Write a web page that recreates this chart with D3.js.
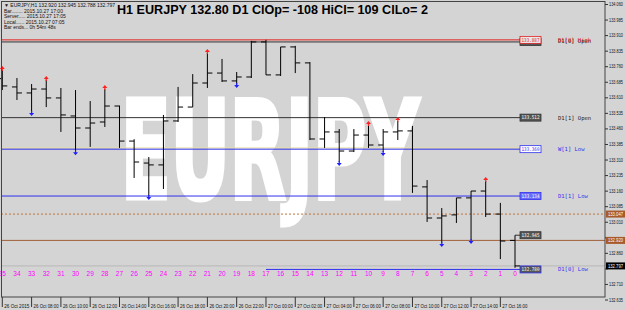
<!DOCTYPE html>
<html>
<head>
<script src="https://d3js.org/d3.v7.min.js"></script>
<style>
  body { margin: 0; background: #d4d4d4; }
  svg { display: block; font-family: "Liberation Sans", Arial, sans-serif; }
</style>
</head>
<body>
<svg id="chart" width="625" height="310"></svg>
<script>
// bar shift (35 = oldest on screen, 0 = current H1 bar)
let shifts = [35, 34, 33, 32, 31, 30, 29, 28, 27, 26, 25, 24, 23, 22, 21, 20, 19, 18,
              17, 16, 15, 14, 13, 12, 11, 10, 9, 8, 7, 6, 5, 4, 3, 2, 1, 0]
let opens  = [133.700, 133.660, 133.631, 133.650, 133.607, 133.520, 133.462, 133.491, 133.568,
              133.399, 133.293, 133.284, 133.496, 133.563, 133.679, 133.727, 133.689, 133.708,
              133.877, 133.718, 133.853, 133.776, 133.409, 133.443, 133.351, 133.428, 133.380,
              133.443, 133.448, 133.178, 133.028, 133.043, 133.125, 133.158, 133.047, 132.920]
let highs  = [133.742, 133.703, 133.674, 133.694, 133.655, 133.645, 133.592, 133.650, 133.570,
              133.408, 133.322, 133.525, 133.660, 133.722, 133.824, 133.795, 133.732, 133.882,
              133.887, 133.853, 133.858, 133.780, 133.515, 133.457, 133.457, 133.477, 133.457,
              133.496, 133.472, 133.211, 133.076, 133.125, 133.158, 133.207, 133.101, 132.945]
let lows   = [133.645, 133.597, 133.539, 133.563, 133.443, 133.350, 133.371, 133.467, 133.366,
              133.221, 133.134, 133.168, 133.491, 133.563, 133.655, 133.684, 133.674, 133.703,
              133.718, 133.713, 133.727, 133.404, 133.366, 133.298, 133.346, 133.366, 133.346,
              133.404, 133.149, 133.009, 132.908, 133.004, 132.922, 133.033, 132.830, 132.788]
let closes = [133.665, 133.631, 133.650, 133.607, 133.525, 133.462, 133.486, 133.568, 133.399,
              133.298, 133.284, 133.496, 133.563, 133.679, 133.727, 133.689, 133.708, 133.877,
              133.718, 133.853, 133.776, 133.409, 133.443, 133.351, 133.428, 133.380, 133.443,
              133.448, 133.182, 133.028, 133.038, 133.125, 133.158, 133.047, 132.917, 132.797]
// fractal arrows
let upFractals = [35, 32, 28, 21, 10, 8, 2]
let downFractals = [33, 30, 25, 19, 12, 9, 5, 3]

let timeTickBars = [35, 33, 31, 29, 27, 25, 23, 21, 19, 17, 15, 13, 11, 9, 7, 5, 3, 1]
let timeLabels = ["26 Oct 2015", "26 Oct 08:00", "26 Oct 10:00", "26 Oct 12:00", "26 Oct 14:00",
                  "26 Oct 16:00", "26 Oct 18:00", "26 Oct 20:00", "26 Oct 22:00", "27 Oct 00:00",
                  "27 Oct 02:00", "27 Oct 04:00", "27 Oct 06:00", "27 Oct 08:00", "27 Oct 10:00",
                  "27 Oct 12:00", "27 Oct 14:00", "27 Oct 16:00"]
let priceTicks = [134.060, 133.985, 133.910, 133.835, 133.760, 133.685, 133.610, 133.535, 133.460,
                  133.385, 133.310, 133.235, 133.160, 133.085, 133.010, 132.935, 132.860, 132.785,
                  132.710, 132.635]

// level lines drawn by the indicator
let levelValues = [133.887, 133.877, 133.512, 133.360, 133.134, 132.945, 132.780]
let levelNames  = ["D1[0] High", "D1[0] Open", "D1[1] Open", "W[1] Low", "D1[1] Low", "", "D1[0] Low"]
let levelFrom   = [35, 35, 35, 35, 35, 0, 17]
let levelColors = ["#e02020", "#333333", "#333333", "#3030f0", "#3030f0", "#333333", "#3030f0"]

let bidPrice = 132.797
let brownLevels = [133.047, 132.920]

let infoLines = ["\u25BC EURJPY,H1  132.920 132.945 132.788 132.797",
                 "Bar........ 2015.10.27 17:00",
                 "Server..... 2015.10.27 17:05",
                 "Local...... 2015.10.27 07:05",
                 "Bar ends... 0h 54m 48s"]
let title = "H1 EURJPY 132.80 D1 ClOp= -108 HiCl= 109 ClLo= 2"

let svg = d3.select("#chart")
let x = d3.scaleLinear().domain([35, 0]).range([2.3, 515])
let y = d3.scaleLinear().domain([132.635, 134.060]).range([299.5, 4])
let fmt = d3.format(".3f")

svg.append("rect").attr("width", 625).attr("height", 310).attr("fill", "#d4d4d4")

// watermark, squeezed horizontally to the condensed look
let wm = svg.append("text").attr("x", 0).attr("y", 0).text("EURJPY")
  .attr("font-family", "DejaVu Sans Condensed, DejaVu Sans, sans-serif")
  .attr("font-weight", "bold").attr("font-size", 136).attr("fill", "#ffffff")
  .attr("stroke", "#ffffff").attr("stroke-width", 5).attr("stroke-linejoin", "miter")
let wmWidth = wm.node().getComputedTextLength()
wm.attr("transform", `translate(121,198) scale(${298 / wmWidth},1)`)

let plot = svg.append("g")

// extra faint line above weekly low
plot.append("line").attr("x1", 1).attr("x2", 520).attr("y1", y(133.366)).attr("y2", y(133.366))
  .attr("stroke", "#e8e2a0").attr("stroke-width", 1)

// brown levels
plot.append("line").attr("x1", 1).attr("x2", 605).attr("y1", y(brownLevels[0])).attr("y2", y(brownLevels[0]))
  .attr("stroke", "#c0703a").attr("stroke-dasharray", "2,2")
plot.append("line").attr("x1", 1).attr("x2", 605).attr("y1", y(brownLevels[1])).attr("y2", y(brownLevels[1]))
  .attr("stroke", "#a0603a")
// bid line
plot.append("line").attr("x1", 1).attr("x2", 605).attr("y1", y(bidPrice)).attr("y2", y(bidPrice))
  .attr("stroke", "#b8b8b8")

// indicator levels
levelValues.forEach((v, i) => {
  let yy = y(v)
  plot.append("line").attr("x1", i == 5 ? x(0) : (levelFrom[i] == 35 ? 1 : x(levelFrom[i])))
    .attr("x2", 520).attr("y1", yy).attr("y2", yy).attr("stroke", levelColors[i])
})

// bars
let ohlc = shifts.map((s, i) => ({s: s, o: opens[i], h: highs[i], l: lows[i], c: closes[i]}))
let bars = plot.selectAll(".bar").data(ohlc).enter().append("g").attr("class", "bar")
bars.append("line").attr("x1", d => x(d.s)).attr("x2", d => x(d.s))
  .attr("y1", d => y(d.h)).attr("y2", d => y(d.l)).attr("stroke", "#000")
bars.append("line").attr("x1", d => x(d.s) - 5).attr("x2", d => x(d.s))
  .attr("y1", d => y(d.o)).attr("y2", d => y(d.o)).attr("stroke", "#000")
bars.append("line").attr("x1", d => x(d.s)).attr("x2", d => x(d.s) + 5)
  .attr("y1", d => y(d.c)).attr("y2", d => y(d.c)).attr("stroke", "#000")

// fractal arrows
let byShift = s => ohlc[shifts.indexOf(s)]
plot.selectAll(".up").data(upFractals).enter().append("path")
  .attr("d", s => {
    let cx = x(s), t = y(byShift(s).h) - 4
    return `M${cx},${t}L${cx + 2.5},${t + 3}L${cx + 0.6},${t + 3}L${cx + 0.6},${t + 5}L${cx - 0.6},${t + 5}L${cx - 0.6},${t + 3}L${cx - 2.5},${t + 3}Z`
  }).attr("fill", "#ff2020")
plot.selectAll(".down").data(downFractals).enter().append("path")
  .attr("d", s => {
    let cx = x(s), b = y(byShift(s).l) + 4
    return `M${cx},${b}L${cx + 2.5},${b - 3}L${cx + 0.6},${b - 3}L${cx + 0.6},${b - 5}L${cx - 0.6},${b - 5}L${cx - 0.6},${b - 3}L${cx - 2.5},${b - 3}Z`
  }).attr("fill", "#2020ff")

// price boxes at the end of the level lines
// (the D1[0] Open box is drawn first so the High box sits over it)
let boxes = svg.append("g")
let boxOrder = [1, 0, 2, 3, 4, 5, 6]
boxOrder.forEach(i => {
  let v = levelValues[i], yy = y(v)
  let blueOutline = i == 3
  boxes.append("rect").attr("x", 520).attr("y", yy - 3.5).attr("width", 21).attr("height", 7)
    .attr("fill", blueOutline ? "#ffffff" : (i == 0 ? "#e8e8e8" : (i == 4 ? "#6a6af8" : "#555555")))
    .attr("stroke", levelColors[i]).attr("stroke-width", 0.8)
  if (i != 1) {
    boxes.append("text").attr("x", 521.5).attr("y", yy + 1.8)
      .attr("font-family", "DejaVu Sans Mono, monospace").attr("font-size", 5)
      .attr("textLength", 18).attr("lengthAdjust", "spacingAndGlyphs")
      .attr("fill", blueOutline ? "#3030f0" : (i == 0 ? "#e02020" : "#ffffff"))
      .text(fmt(v))
  }
  if (levelNames[i]) {
    boxes.append("text").attr("x", 558).attr("y", yy + 2 + (i == 1 ? -1 : 0))
      .attr("font-family", "DejaVu Sans Mono, monospace").attr("font-size", 5.5)
      .attr("fill", levelColors[i] == "#333333" ? "#222" : levelColors[i]).text(levelNames[i])
  }
})

// shift numbers
svg.selectAll(".num").data(shifts).enter().append("text")
  .attr("x", d => x(d)).attr("y", 275.5).attr("text-anchor", "middle")
  .attr("font-size", 6.5).attr("fill", "#ff00ff").text(d => d)

// frame
svg.append("rect").attr("x", 1.5).attr("y", 1.5).attr("width", 603.5).attr("height", 295.5)
  .attr("fill", "none").attr("stroke", "#444")

// coloured price markers on the axis; tick labels behind them are hidden
let markers = [[brownLevels[0], "#a85a2a"], [brownLevels[1], "#a85a2a"], [bidPrice, "#000000"]]
let hidden = v => markers.some(m => Math.abs(y(m[0]) - y(v)) < 6)

let axisR = svg.append("g").attr("transform", "translate(605,0)")
  .call(d3.axisRight(y).tickValues(priceTicks).tickFormat(v => hidden(v) ? "" : fmt(v)).tickSize(3).tickPadding(1))
axisR.select(".domain").remove()
axisR.selectAll("text").attr("font-size", 4.8).attr("fill", "#111").attr("font-family", "Liberation Sans, sans-serif")
  .attr("textLength", 14).attr("lengthAdjust", "spacingAndGlyphs")
axisR.selectAll("text").filter(function () { return this.textContent == "" }).remove()
axisR.selectAll("line").attr("stroke", "#333")

markers.forEach(m => {
  svg.append("rect").attr("x", 606).attr("y", y(m[0]) - 3.5).attr("width", 19).attr("height", 7).attr("fill", m[1])
  svg.append("text").attr("x", 608).attr("y", y(m[0]) + 1.8).attr("font-size", 4.8).attr("fill", "#fff")
    .attr("textLength", 15).attr("lengthAdjust", "spacingAndGlyphs").text(fmt(m[0]))
})

// time axis
let axisB = svg.append("g")
axisB.selectAll("line").data(timeTickBars).enter().append("line")
  .attr("x1", d => x(d)).attr("x2", d => x(d)).attr("y1", 297).attr("y2", 307).attr("stroke", "#333")
axisB.selectAll("text").data(timeTickBars).enter().append("text")
  .attr("x", d => x(d) + 2).attr("y", 307.5).attr("font-size", 4.6).attr("fill", "#111")
  .attr("textLength", 25).attr("lengthAdjust", "spacingAndGlyphs")
  .text((d, i) => timeLabels[i])

// info block
svg.selectAll(".info").data(infoLines).enter().append("text")
  .attr("x", 4).attr("y", (d, i) => 7 + i * 5.6).attr("font-size", 5)
  .attr("fill", "#111").text(d => d)

// title
svg.append("text").attr("x", 117).attr("y", 13.5).attr("font-size", 12.6).attr("font-weight", "bold")
  .attr("fill", "#000").text(title)
</script>
</body>
</html>
